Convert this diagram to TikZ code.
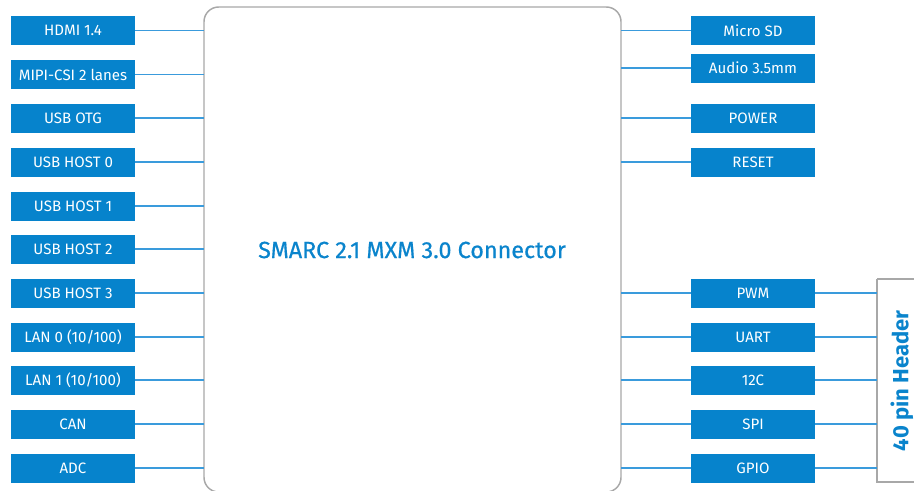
\documentclass[tikz,border=0pt]{standalone}
\usepackage{fontspec}
\setmainfont{Fira Sans}
\definecolor{boxblue}{HTML}{0683CC}
\definecolor{lineblue}{HTML}{3A9BDC}
\definecolor{titleblue}{HTML}{0A84CC}
\definecolor{framegray}{HTML}{A8A8A8}
\tikzset{
  sig/.style={fill=boxblue, minimum width=124*0.75pt, minimum height=29*0.75pt, inner sep=0pt,
    text=white, font=\fontsize{11.3pt}{13pt}\selectfont},
  wire/.style={draw=lineblue, line width=0.8pt},
  frame/.style={draw=framegray, line width=1.1pt}
}
\begin{document}
\begin{tikzpicture}[x=0.75pt,y=-0.75pt]
\useasboundingbox (0,0) rectangle (914,490);
% main connector
\draw[frame, rounded corners=11pt] (204,7) rectangle (621,492);
\node[inner sep=0pt, text=titleblue, font=\fontsize{17.5pt}{20pt}\selectfont\addfontfeature{FakeBold=0.6}] (main) at (412,250) {SMARC 2.1 MXM 3.0 Connector};
\coordinate (mL) at (204,250);
\coordinate (mR) at (621,250);
% header
\draw[frame] (877,279) -- (930,279) (877,279) -- (877,482) -- (930,482);
\node[rotate=90, inner sep=0pt, text=titleblue, font=\fontsize{16.5pt}{19pt}\selectfont\bfseries] (hdr) at (902,381) {40 pin Header};
\coordinate (hL) at (877,380);
% left side
\foreach \n/\t/\y in {l1/{HDMI 1.4}/30.5, l2/{MIPI-CSI 2 lanes}/74.5, l3/{USB OTG}/118, l4/{USB HOST 0}/162, l5/{USB HOST 1}/206, l6/{USB HOST 2}/249, l7/{USB HOST 3}/293, l8/{LAN 0 (10/100)}/337, l9/{LAN 1 (10/100)}/380, l10/{CAN}/424, l11/{ADC}/468}{
  \node[sig] (\n) at (73,\y) {\t};
  \draw[wire] (\n.east) -- (\n.east -| mL);
}
% right side
\foreach \n/\t/\y in {r1/{Micro SD}/30.5, r2/{Audio 3.5mm}/68, r3/{POWER}/118, r4/{RESET}/162}{
  \node[sig] (\n) at (753,\y) {\t};
  \draw[wire] (\n.west -| mR) -- (\n.west);
}
\foreach \n/\t/\y in {p1/PWM/293, p2/UART/337, p3/12C/380, p4/SPI/424, p5/GPIO/468}{
  \node[sig] (\n) at (753,\y) {\t};
  \draw[wire] (\n.west -| mR) -- (\n.west);
  \draw[wire] (\n.east) -- (\n.east -| hL);
}
\end{tikzpicture}
\end{document}
